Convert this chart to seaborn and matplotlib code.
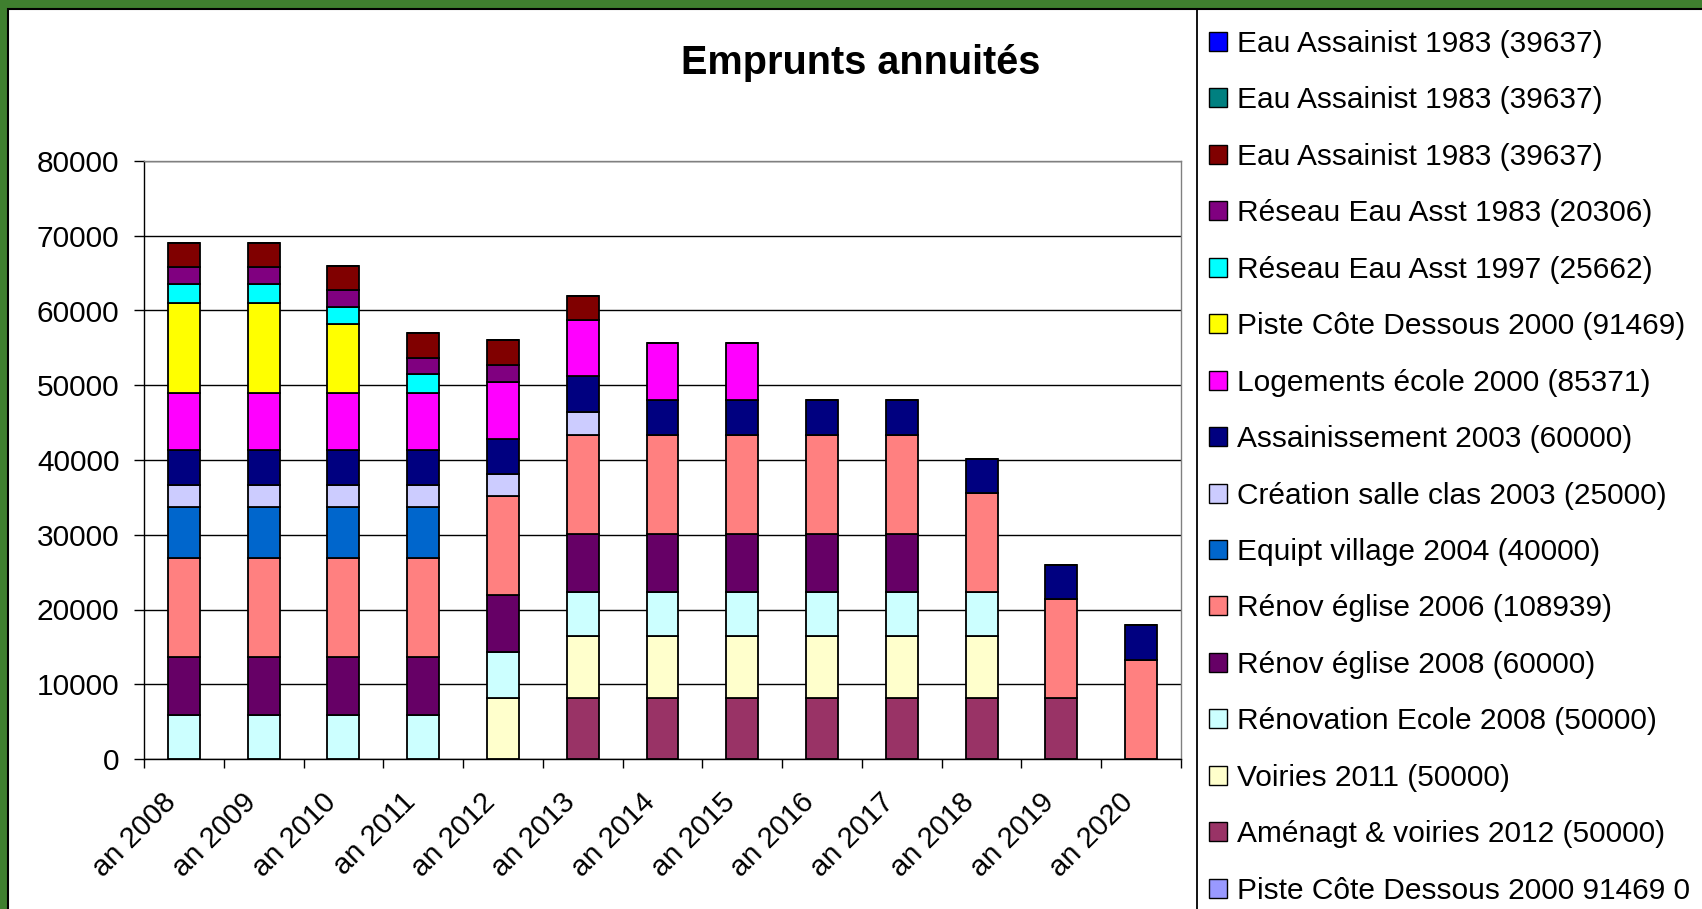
import matplotlib
matplotlib.use('Agg')
import matplotlib.pyplot as plt
from matplotlib.patches import Patch, Rectangle
from matplotlib.lines import Line2D
from matplotlib.ticker import MultipleLocator, FixedLocator
import matplotlib.transforms as mtransforms
import seaborn as sns
import pandas as pd

# ---- data ----
annees = ['an 2008', 'an 2009', 'an 2010', 'an 2011', 'an 2012', 'an 2013', 'an 2014',
          'an 2015', 'an 2016', 'an 2017', 'an 2018', 'an 2019', 'an 2020']

# legend order (top of stack first)
cles = ['eau1', 'eau2', 'eau3', 'res83', 'res97', 'piste', 'logts', 'assain',
        'salle', 'equipt', 'eglise06', 'eglise08', 'ecole', 'voiries', 'amenagt', 'piste0']
libelles = ['Eau Assainist 1983 (39637)', 'Eau Assainist 1983 (39637)', 'Eau Assainist 1983 (39637)',
            'Réseau Eau Asst 1983 (20306)', 'Réseau Eau Asst 1997 (25662)',
            'Piste Côte Dessous 2000 (91469)', 'Logements école 2000 (85371)',
            'Assainissement 2003 (60000)', 'Création salle clas 2003 (25000)',
            'Equipt village 2004 (40000)', 'Rénov église 2006 (108939)', 'Rénov église 2008 (60000)',
            'Rénovation Ecole 2008 (50000)', 'Voiries 2011 (50000)', 'Aménagt & voiries 2012 (50000)',
            'Piste Côte Dessous 2000 91469 0']
couleurs = ['#0000FF', '#008080', '#800000', '#800080', '#00FFFF', '#FFFF00', '#FF00FF', '#000080',
            '#CCCCFF', '#0066CC', '#FF8080', '#660066', '#CCFFFF', '#FFFFCC', '#993366', '#9999FF']

eau1 =     [0, 0, 0, 0, 0, 0, 0, 0, 0, 0, 0, 0, 0]
eau2 =     [0, 0, 0, 0, 0, 0, 0, 0, 0, 0, 0, 0, 0]
eau3 =     [3200, 3200, 3200, 3300, 3300, 3300, 0, 0, 0, 0, 0, 0, 0]
res83 =    [2250, 2250, 2250, 2150, 2300, 0, 0, 0, 0, 0, 0, 0, 0]
res97 =    [2600, 2600, 2300, 2550, 0, 0, 0, 0, 0, 0, 0, 0, 0]
piste =    [12000, 12000, 9200, 0, 0, 0, 0, 0, 0, 0, 0, 0, 0]
logts =    [7600, 7600, 7600, 7600, 7600, 7400, 7650, 7650, 0, 0, 0, 0, 0]
assain =   [4650, 4650, 4650, 4650, 4650, 4900, 4700, 4700, 4700, 4700, 4600, 4600, 4700]
salle =    [3000, 3000, 3000, 3000, 3000, 3000, 0, 0, 0, 0, 0, 0, 0]
equipt =   [6800, 6800, 6800, 6800, 0, 0, 0, 0, 0, 0, 0, 0, 0]
eglise06 = [13300, 13300, 13300, 13300, 13200, 13300, 13200, 13200, 13200, 13200, 13200, 13200, 13200]
eglise08 = [7700, 7700, 7700, 7700, 7650, 7700, 7700, 7700, 7700, 7700, 0, 0, 0]
ecole =    [5900, 5900, 5900, 5900, 6100, 5900, 5900, 5900, 5900, 5900, 5900, 0, 0]
voiries =  [0, 0, 0, 0, 8200, 8300, 8300, 8300, 8300, 8300, 8300, 0, 0]
amenagt =  [0, 0, 0, 0, 0, 8200, 8200, 8200, 8200, 8200, 8200, 8200, 0]
piste0 =   [0, 0, 0, 0, 0, 0, 0, 0, 0, 0, 0, 0, 0]

series = {'eau1': eau1, 'eau2': eau2, 'eau3': eau3, 'res83': res83, 'res97': res97,
          'piste': piste, 'logts': logts, 'assain': assain, 'salle': salle, 'equipt': equipt,
          'eglise06': eglise06, 'eglise08': eglise08, 'ecole': ecole, 'voiries': voiries,
          'amenagt': amenagt, 'piste0': piste0}

rows = []
for k in cles:
    for a, v in zip(annees, series[k]):
        rows.append({'annee': a, 'emprunt': k, 'montant': v})
df = pd.DataFrame(rows)

# ---- style ----
sns.set_style('white')
plt.rcParams['font.family'] = ['Liberation Sans', 'DejaVu Sans']
plt.rcParams['text.color'] = 'black'
plt.rcParams['xtick.color'] = 'black'
plt.rcParams['ytick.color'] = 'black'
plt.rcParams['xtick.labelcolor'] = 'black'
plt.rcParams['ytick.labelcolor'] = 'black'

W, H = 1702, 909
fig = plt.figure(figsize=(W / 100, H / 100), dpi=100)
fig.patch.set_facecolor('#3F7F2F')
fig.patches.append(Rectangle((8 / W, -0.05), 1.2, 1.05 - 9 / H, transform=fig.transFigure,
                             facecolor='white', edgecolor='black', linewidth=1.5, zorder=-1))

ax = fig.add_axes([144 / W, (H - 759) / H, (1181 - 144) / W, (759 - 161) / H])
ax.set_facecolor('white')

# stacked bars: seaborn puts the last hue level at the bottom
sns.histplot(data=df, x='annee', weights='montant', hue='emprunt', hue_order=cles,
             palette=couleurs, multiple='stack', discrete=True, shrink=0.4,
             edgecolor='black', linewidth=1.3, alpha=1, legend=False, ax=ax)

ax.set_ylim(0, 80000)
ax.set_xlim(-0.5, len(annees) - 0.5)
ax.yaxis.set_major_locator(MultipleLocator(10000))
ax.grid(axis='y', color='black', linewidth=1.0)
ax.grid(axis='x', visible=False)
ax.set_axisbelow(True)
ax.set_xlabel('')
ax.set_ylabel('')
for s in ['top', 'right']:
    ax.spines[s].set_color('#808080')
    ax.spines[s].set_linewidth(1.0)
for s in ['left', 'bottom']:
    ax.spines[s].set_color('black')
    ax.spines[s].set_linewidth(1.0)

ax.set_xticks(range(len(annees)))
ax.set_xticklabels(annees, rotation=45, ha='right', va='center', rotation_mode='anchor')
ax.xaxis.set_minor_locator(FixedLocator([i - 0.5 for i in range(len(annees) + 1)]))
ax.tick_params(axis='x', which='major', length=0, pad=28, labelsize=21)
ax.tick_params(axis='x', which='minor', bottom=True, length=6.5, width=1.0, color='black', direction='out')
ax.tick_params(axis='y', left=True, length=7.2, width=1.0, color='black', pad=10.5, labelsize=21.5,
               direction='out')
off = mtransforms.ScaledTranslation(-12 / 100, 0, fig.dpi_scale_trans)
for lbl in ax.get_xticklabels():
    lbl.set_transform(lbl.get_transform() + off)

fig.text(861 / W, 1 - 74 / H, 'Emprunts annuités', ha='center', va='baseline',
         fontsize=28.5, fontweight='bold')

# legend box: only its left border falls inside the picture
fig.add_artist(Line2D([1197 / W, 1197 / W], [-0.01, 1 - 9 / H], transform=fig.transFigure,
                      color='black', linewidth=1.3))
handles = [Patch(facecolor=c, edgecolor='black', linewidth=1.0) for c in couleurs]
leg = ax.legend(handles, libelles, loc='upper left', bbox_to_anchor=(1193 / W, 1 - 13.5 / H),
                bbox_transform=fig.transFigure, borderaxespad=0, borderpad=0.55,
                fontsize=21.5, handlelength=0.6, handleheight=0.6, handletextpad=0.33,
                labelspacing=0.953, frameon=False)

fig.savefig('out.png', dpi=100)
